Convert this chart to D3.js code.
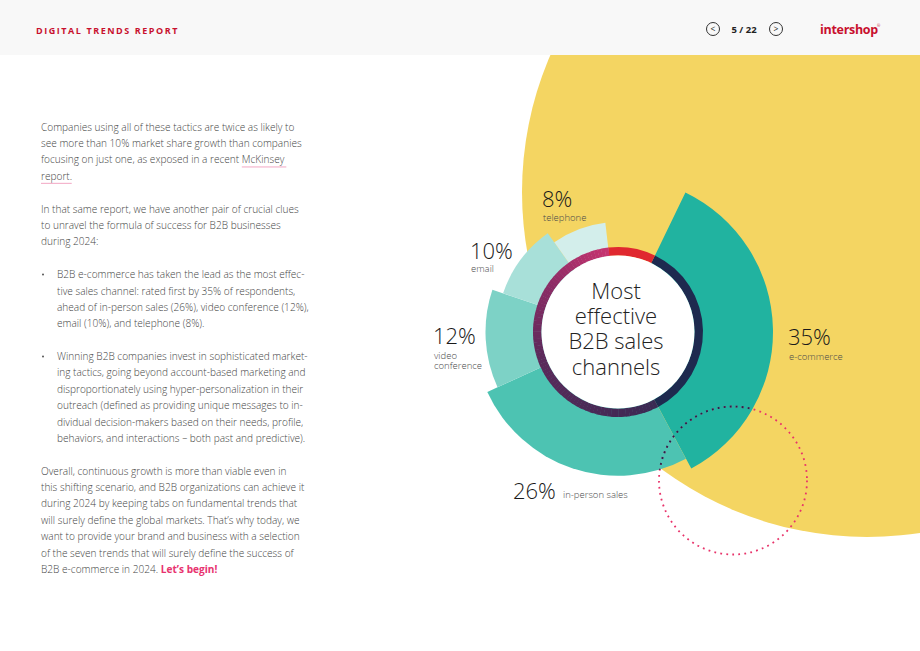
<!DOCTYPE html>
<html>
<head>
<meta charset="utf-8">
<script src="https://cdn.jsdelivr.net/npm/d3@7"></script>
<style>
  body { margin: 0; background: #fff; }
  svg { display: block; font-family: "Open Sans", sans-serif; }
</style>
</head>
<body>
<svg id="main"></svg>
<script>
// ---- data ----
var channels = ["e-commerce", "in-person sales", "video conference", "email", "telephone"];
var shares = [35, 26, 12, 10, 8];
var otherShare = 9;
var pctLabels = ["35%", "26%", "12%", "10%", "8%"];
var channelLabels = [["e-commerce"], ["in-person sales"], ["video", "conference"], ["email"], ["telephone"]];
var centerTitle = ["Most", "effective", "B2B sales", "channels"];

var introLines = [
  [{t: "Companies using all of these tactics are twice as likely to"}],
  [{t: "see more than 10% market share growth than companies"}],
  [{t: "focusing on just one, as exposed in a recent "}, {t: "McKinsey", link: true}],
  [{t: "report", link: true}, {t: "."}]
];
var clueLines = [
  [{t: "In that same report, we have another pair of crucial clues"}],
  [{t: "to unravel the formula of success for B2B businesses"}],
  [{t: "during 2024:"}]
];
var bulletOne = [
  [{t: "B2B e-commerce has taken the lead as the most effec-"}],
  [{t: "tive sales channel: rated first by 35% of respondents,"}],
  [{t: "ahead of in-person sales (26%), video conference (12%),"}],
  [{t: "email (10%), and telephone (8%)."}]
];
var bulletTwo = [
  [{t: "Winning B2B companies invest in sophisticated market-"}],
  [{t: "ing tactics, going beyond account-based marketing and"}],
  [{t: "disproportionately using hyper-personalization in their"}],
  [{t: "outreach (defined as providing unique messages to in-"}],
  [{t: "dividual decision-makers based on their needs, profile,"}],
  [{t: "behaviors, and interactions \u2013 both past and predictive)."}]
];
var closingLines = [
  [{t: "Overall, continuous growth is more than viable even in"}],
  [{t: "this shifting scenario, and B2B organizations can achieve it"}],
  [{t: "during 2024 by keeping tabs on fundamental trends that"}],
  [{t: "will surely define the global markets. That\u2019s why today, we"}],
  [{t: "want to provide your brand and business with a selection"}],
  [{t: "of the seven trends that will surely define the success of"}],
  [{t: "B2B e-commerce in 2024. "}, {t: "Let\u2019s begin!", strong: true}]
];

// ---- chart setup ----
var chart = {
  width: 920,
  height: 651,
  cx: 618,
  cy: 332,
  ringOuter: 85,
  ringInner: 76.5
};

var wedgeColors = ["#21b3a0", "#4dc3b2", "#7dd2c6", "#a8e0d9", "#d3eeeb"];

var svg = d3.select("#main")
  .attr("width", chart.width)
  .attr("height", chart.height);

// big yellow backdrop circle
svg.append("circle")
  .attr("cx", 867).attr("cy", 192).attr("r", 345)
  .attr("fill", "#f4d562");

// header band
svg.append("rect")
  .attr("x", 0).attr("y", 0).attr("width", chart.width).attr("height", 55)
  .attr("fill", "#f8f8f8");

svg.append("text")
  .attr("x", 36).attr("y", 34)
  .attr("font-size", 9).attr("font-weight", 700)
  .attr("letter-spacing", 1.55)
  .attr("fill", "#c8102e")
  .text("DIGITAL TRENDS REPORT");

var nav = svg.append("g").attr("fill", "none").attr("stroke", "#333").attr("stroke-width", 1);
[[713, "<"], [776, ">"]].forEach(function(n) {
  nav.append("circle").attr("cx", n[0]).attr("cy", 29).attr("r", 6.5);
  svg.append("text").attr("x", n[0]).attr("y", 32.3)
    .attr("text-anchor", "middle").attr("font-size", 8.5).attr("fill", "#222")
    .text(n[1]);
});
svg.append("text")
  .attr("x", 744).attr("y", 33)
  .attr("text-anchor", "middle")
  .attr("font-size", 9.5).attr("font-weight", 700).attr("fill", "#222")
  .text("5 / 22");
svg.append("text")
  .attr("x", 820).attr("y", 34)
  .attr("font-size", 12.5).attr("font-weight", 700).attr("fill", "#c8102e")
  .attr("letter-spacing", -0.3)
  .text("intershop");
svg.append("text")
  .attr("x", 877).attr("y", 27)
  .attr("font-size", 4).attr("fill", "#c8102e")
  .text("\u00ae");

// ---- left column text ----
var textG = svg.append("g")
  .attr("font-size", 10.1)
  .attr("font-weight", 300)
  .attr("fill", "#454545");

var lineStep = 16.38, firstBaseline = 130.7;
var blocks = [
  {lines: introLines, start: 0, x: 41},
  {lines: clueLines, start: 5, x: 41},
  {lines: bulletOne, start: 9, x: 57, bullet: true},
  {lines: bulletTwo, start: 14, x: 57, bullet: true},
  {lines: closingLines, start: 21, x: 41}
];

blocks.forEach(function(b) {
  if (b.bullet) {
    textG.append("circle")
      .attr("cx", 43).attr("cy", firstBaseline + b.start * lineStep - 3.5)
      .attr("r", 1).attr("fill", "#555");
  }
  b.lines.forEach(function(segs, i) {
    var y = firstBaseline + (b.start + i) * lineStep;
    var t = textG.append("text").attr("x", b.x).attr("y", y);
    segs.forEach(function(s) {
      var sp = t.append("tspan").text(s.t);
      if (s.strong) sp.attr("font-weight", 700).attr("fill", "#e8336f");
      if (s.link) {
        var node = sp.node();
        var x0 = node.getStartPositionOfChar(0).x;
        var w = node.getComputedTextLength();
        textG.append("line")
          .attr("x1", x0).attr("x2", x0 + w + 2)
          .attr("y1", y + 3.5).attr("y2", y + 3.5)
          .attr("stroke", "#f2a7c3").attr("stroke-width", 1);
      }
    });
  });
});

// ---- chart ----
var g = svg.append("g").attr("transform", "translate(" + chart.cx + "," + chart.cy + ")");

var ringValues = shares.concat([otherShare]);
var startAngle = 0.45;
var pie = d3.pie().sort(null).value(function(d) { return d; })
  .startAngle(startAngle).endAngle(startAngle + 2 * Math.PI);
var slices = pie(ringValues);

var radius = d3.scaleLinear().domain([0, channels.length - 1]).range([155, 110]);

var wedgeArc = d3.arc()
  .innerRadius(0)
  .outerRadius(function(d) { return radius(d.index); });

var wedgeSlices = slices.slice(0, channels.length);

g.selectAll("path.wedge")
  .data(wedgeSlices)
  .join("path")
  .attr("class", "wedge")
  .attr("d", wedgeArc)
  .attr("fill", function(d, i) { return wedgeColors[i]; });

// clip path of wedges for the dotted circle
var defs = svg.append("defs");
defs.append("clipPath").attr("id", "wedgeClip")
  .selectAll("path")
  .data(wedgeSlices)
  .join("path")
  .attr("transform", "translate(" + chart.cx + "," + chart.cy + ")")
  .attr("d", wedgeArc);

// ring
var ringArc = d3.arc().innerRadius(chart.ringInner).outerRadius(chart.ringOuter);
var ringShade = d3.scaleLinear()
  .domain([0, 0.5, 0.75, 1])
  .range(["#3b2953", "#5d2a5b", "#8c2c65", "#c93470"]);

// e-commerce ring segment: navy
g.append("path")
  .attr("d", ringArc(slices[0]))
  .attr("fill", "#1e2a4f");
// remainder segment: red
g.append("path")
  .attr("d", ringArc(slices[slices.length - 1]))
  .attr("fill", "#e0282f");
// other channels: gradient along the ring
var gA = slices[1].startAngle, gB = slices[channels.length - 1].endAngle;
var steps = d3.range(0, 80);
g.selectAll("path.ringstep")
  .data(steps)
  .join("path")
  .attr("class", "ringstep")
  .attr("d", function(k) {
    return ringArc({
      startAngle: gA + (gB - gA) * k / steps.length,
      endAngle: gA + (gB - gA) * (k + 1) / steps.length + 0.004
    });
  })
  .attr("fill", function(k) { return ringShade(k / steps.length); });

g.append("circle").attr("r", chart.ringInner).attr("fill", "#fff");

g.selectAll("text.title")
  .data(centerTitle)
  .join("text")
  .attr("class", "title")
  .attr("x", -2)
  .attr("y", function(d, i) { return -33 + i * 25.2; })
  .attr("text-anchor", "middle")
  .attr("font-size", 22)
  .attr("font-weight", 300)
  .attr("fill", "#222")
  .text(function(d) { return d; });

// dotted circle
var dot = {cx: 733, cy: 480.5, r: 74};
svg.append("circle")
  .attr("cx", dot.cx).attr("cy", dot.cy).attr("r", dot.r)
  .attr("fill", "none").attr("stroke", "#e8336a")
  .attr("stroke-width", 1.8).attr("stroke-dasharray", "1.8 4.25");
svg.append("circle")
  .attr("cx", dot.cx).attr("cy", dot.cy).attr("r", dot.r)
  .attr("clip-path", "url(#wedgeClip)")
  .attr("fill", "none").attr("stroke", "#1e2a4f")
  .attr("stroke-width", 1.8).attr("stroke-dasharray", "1.8 4.25");

// labels (positions by channel index)
var labelPos = [
  {x: 788, y: 344.5, ly: 360},
  {x: 513, y: 498.5, lx: 563, ly: 497.5},
  {x: 433, y: 344, ly: 358.5},
  {x: 470, y: 258.5, ly: 272},
  {x: 542, y: 207, ly: 221}
];

channels.forEach(function(c, i) {
  var p = labelPos[i];
  svg.append("text")
    .attr("x", p.x).attr("y", p.y)
    .attr("font-size", 22).attr("font-weight", 300).attr("fill", "#1a1a1a")
    .text(pctLabels[i]);
  channelLabels[i].forEach(function(l, j) {
    svg.append("text")
      .attr("x", p.lx != null ? p.lx : p.x + 1)
      .attr("y", p.ly + j * 10.5)
      .attr("font-size", 9.5).attr("font-weight", 300).attr("fill", "#4a4a4a")
      .text(l);
  });
});
</script>
</body>
</html>
